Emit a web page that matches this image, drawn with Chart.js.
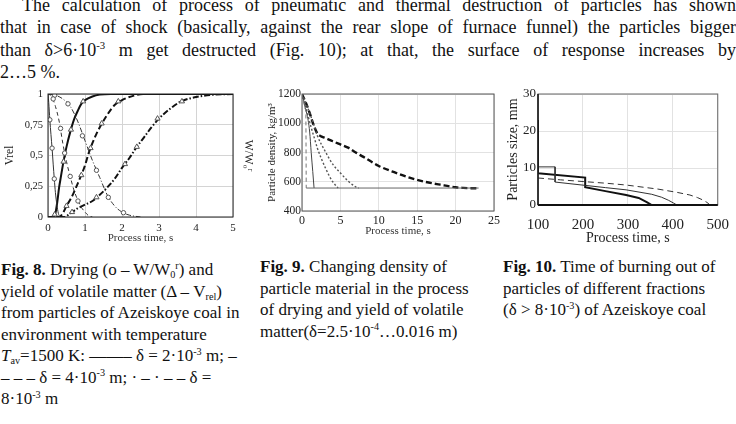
<!DOCTYPE html>
<html><head><meta charset="utf-8">
<script src="https://cdn.jsdelivr.net/npm/chart.js@4"></script>
<style>
html,body{margin:0;padding:0;background:#fff;}
body{width:736px;height:424px;overflow:hidden;position:relative;font-family:"Liberation Serif","Times New Roman",serif;color:#111;}
.para{position:absolute;left:0;top:-6px;width:736px;font-size:18px;line-height:22.3px;}
.jl{text-align:justify;text-align-last:justify;}
sup{font-size:60%;vertical-align:baseline;position:relative;top:-0.6em;line-height:0;}
sub{font-size:60%;vertical-align:baseline;position:relative;top:0.3em;line-height:0;}
.cap{position:absolute;font-size:17px;line-height:21.5px;white-space:nowrap;}
.cv{position:absolute;}
</style></head>
<body>
<div class="para">
<div class="jl" style="padding-left:22px">The calculation of process of pneumatic and thermal destruction of particles has shown</div>
<div class="jl">that in case of shock (basically, against the rear slope of furnace funnel) the particles bigger</div>
<div class="jl">than δ&gt;6·10<sup>-3</sup> m get destructed (Fig. 10); at that, the surface of response increases by</div>
<div>2…5 %.</div>
</div>

<div class="cap" style="left:1px;top:259px;">
<b>Fig. 8.</b> Drying (o – W/W<sub>0</sub><sup>r</sup>) and<br>
yield of volatile matter (Δ – V<sub>rel</sub>)<br>
from particles of Azeiskoye coal in<br>
environment with temperature<br>
<i>T</i><sub>av</sub>=1500 K: ——– δ = 2·10<sup>-3</sup> m; –<br>
– – – δ = 4·10<sup>-3</sup> m; · – · – – δ =<br>
8·10<sup>-3</sup> m
</div>
<div class="cap" style="left:260px;top:256px;">
<b>Fig. 9.</b> Changing density of<br>
particle material in the process<br>
of drying and yield of volatile<br>
matter(δ=2.5·10<sup>-4</sup>…0.016 m)
</div>
<div class="cap" style="left:503px;top:256px;">
<b>Fig. 10.</b> Time of burning out of<br>
particles of different fractions<br>
(δ &gt; 8·10<sup>-3</sup>) of Azeiskoye coal
</div>

<canvas id="c8" class="cv" width="262" height="168" style="left:0px;top:80px;"></canvas>
<canvas id="c9" class="cv" width="250" height="160" style="left:255px;top:80px;"></canvas>
<canvas id="c10" class="cv" width="245" height="168" style="left:495px;top:80px;"></canvas>

<script>
// ---------- Fig. 8 data (process time, s / relative value) ----------
const w2T = [0, 0.02, 0.05, 0.08, 0.11, 0.14, 0.17, 0.2, 0.24, 0.28, 0.32];
const w2Y = [1, 0.93, 0.79, 0.67, 0.56, 0.43, 0.31, 0.2, 0.1, 0.03, 0];
const w2MarkT = [0.05, 0.11, 0.17];
const w2MarkY = [0.79, 0.56, 0.31];

const w4T = [0, 0.1, 0.2, 0.3, 0.4, 0.5, 0.6, 0.7, 0.8, 0.9, 1.0, 1.1, 1.2];
const w4Y = [1, 0.98, 0.9, 0.78, 0.6, 0.45, 0.33, 0.22, 0.14, 0.08, 0.04, 0.01, 0];
const w4MarkT = [0.14, 0.34, 0.45, 0.6, 0.81];
const w4MarkY = [0.96, 0.72, 0.52, 0.33, 0.13];

const w8T = [0, 0.2, 0.4, 0.6, 0.8, 1.0, 1.2, 1.4, 1.6, 1.8, 2.0, 2.2, 2.5];
const w8Y = [1, 0.99, 0.96, 0.9, 0.78, 0.62, 0.46, 0.32, 0.18, 0.09, 0.04, 0.015, 0];
const w8MarkT = [0.18, 0.54, 0.93, 1.31, 1.63, 2.04];
const w8MarkY = [0.99, 0.92, 0.66, 0.38, 0.16, 0.035];

const v2T = [0, 0.15, 0.2, 0.25, 0.3, 0.35, 0.4, 0.45, 0.5, 0.6, 0.7, 0.8, 0.9, 1.0, 1.2, 1.4, 1.7, 2.0, 5];
const v2Y = [0, 0, 0.03, 0.12, 0.24, 0.33, 0.42, 0.5, 0.57, 0.69, 0.79, 0.86, 0.92, 0.95, 0.98, 0.995, 1, 1, 1];
const v2MarkT = [0.18, 0.42, 0.62, 0.95];
const v2MarkY = [0.02, 0.45, 0.71, 0.94];

const v4T = [0, 0.3, 0.4, 0.5, 0.6, 0.7, 0.8, 0.9, 1.0, 1.1, 1.2, 1.3, 1.4, 1.6, 1.8, 2.0, 2.3, 2.6, 3.0, 5];
const v4Y = [0, 0, 0.03, 0.09, 0.14, 0.2, 0.27, 0.34, 0.42, 0.52, 0.6, 0.67, 0.73, 0.83, 0.91, 0.95, 0.985, 1, 1, 1];
const v4MarkT = [0.5, 0.9, 1.15, 1.45, 1.9];
const v4MarkY = [0.09, 0.34, 0.56, 0.76, 0.94];

const v8T = [0, 0.45, 0.6, 0.8, 1.0, 1.2, 1.4, 1.6, 1.8, 2.0, 2.2, 2.4, 2.6, 2.8, 3.0, 3.3, 3.6, 4.0, 4.5, 5];
const v8Y = [0, 0, 0.03, 0.07, 0.1, 0.13, 0.18, 0.24, 0.31, 0.4, 0.48, 0.57, 0.65, 0.73, 0.8, 0.88, 0.94, 0.975, 0.995, 1];
const v8MarkT = [0.65, 1.31, 2.08, 2.4, 2.96, 3.62];
const v8MarkY = [0.04, 0.16, 0.43, 0.57, 0.8, 0.94];

// ---------- Fig. 9 data (process time, s / density, kg/m3) ----------
const rhoLargeT = [0, 0.5, 1, 1.5, 2, 2.5, 3, 4, 5, 6, 7, 8, 9, 10, 12, 14, 16, 18, 20, 21, 22, 23];
const rhoLargeY = [1200, 1140, 1070, 990, 930, 910, 900, 877, 855, 833, 800, 770, 738, 708, 665, 628, 600, 580, 562, 558, 556, 555];
const rhoMid2T = [0, 0.5, 1, 1.5, 2, 3, 4, 5, 6, 7, 7.4];
const rhoMid2Y = [1200, 1140, 1070, 995, 915, 810, 720, 660, 605, 565, 557];
const rhoMid1T = [0, 0.4, 0.8, 1.2, 1.6, 2, 2.5, 3, 3.5, 4, 4.7];
const rhoMid1Y = [1200, 1130, 1050, 970, 900, 830, 760, 700, 645, 600, 557];
const rhoSmallT = [0, 0.2, 0.4, 0.6, 0.8, 1.0, 1.2, 1.4, 1.57];
const rhoSmallY = [1200, 1160, 1110, 1070, 1020, 940, 800, 670, 557];
const rhoFineT = [0, 0.2, 0.4, 0.5, 0.55];
const rhoFineY = [1200, 1150, 1100, 1060, 557];
const rhoFinalT = [0.55, 23];
const rhoFinalY = [557, 557];

// ---------- Fig. 10 data (process time, s / particle size, mm) ----------
const sizeThickT = [100, 100, 205, 205, 250, 296, 324, 342, 353, 500];
const sizeThickY = [23, 8.6, 7.4, 4.8, 3.75, 2.7, 1.9, 0.8, 0, 0];
const sizeThinT = [100, 138, 138, 205, 250, 296, 353, 375, 390, 402, 409];
const sizeThinY = [10.3, 10.3, 6.2, 5.3, 4.7, 4.1, 2.9, 2.1, 1.3, 0.5, 0];
const sizeDashT = [100, 150, 205, 250, 296, 367, 410, 438, 455, 466, 476, 483];
const sizeDashY = [7.3, 6.8, 6.3, 5.9, 5.4, 4.3, 3.4, 2.7, 2.0, 1.4, 0.7, 0];

const F = '"Liberation Serif","Times New Roman",serif';

function pts(xs, ys) { return xs.map((x, i) => ({x: x, y: ys[i]})); }
function curve(xs, ys, color, width, dash, smooth) {
  return {data: pts(xs, ys), showLine: true, borderColor: color, borderWidth: width,
    borderDash: dash, pointRadius: 0, order: 2, fill: false,
    cubicInterpolationMode: smooth ? 'monotone' : 'default', tension: 0};
}
function marks(xs, ys, style, r) {
  return {data: pts(xs, ys), showLine: false, pointStyle: style, pointRadius: r,
    pointBackgroundColor: '#fff', pointBorderColor: '#555', pointBorderWidth: 1, order: 0};
}

const frame = {
  id: 'frame',
  afterDatasetsDraw(chart, args, o) {
    const {ctx, chartArea: a} = chart;
    ctx.save();
    ctx.strokeStyle = o.color; ctx.lineWidth = o.width;
    ctx.strokeRect(a.left, a.top, a.right - a.left, a.bottom - a.top);
    if (o.leftWidth) {
      ctx.strokeStyle = o.axisColor; ctx.lineWidth = o.leftWidth;
      ctx.beginPath(); ctx.moveTo(a.left, a.top); ctx.lineTo(a.left, a.bottom); ctx.stroke();
      ctx.lineWidth = o.bottomWidth;
      ctx.beginPath(); ctx.moveTo(a.left, a.bottom); ctx.lineTo(a.right, a.bottom); ctx.stroke();
    }
    ctx.restore();
  }
};

const common = {responsive: false, animation: false, events: []};
const plain = v => String(v);

// ---------- Fig. 8 ----------
new Chart(document.getElementById('c8'), {
  type: 'scatter',
  data: {datasets: [
    marks(w2MarkT, w2MarkY, 'circle', 2.2),
    marks(w4MarkT, w4MarkY, 'circle', 2.2),
    marks(w8MarkT, w8MarkY, 'circle', 2.2),
    marks(v2MarkT, v2MarkY, 'triangle', 3),
    marks(v4MarkT, v4MarkY, 'triangle', 3),
    marks(v8MarkT, v8MarkY, 'triangle', 3),
    curve(w2T, w2Y, '#333', 1, [], true),
    curve(w4T, w4Y, '#333', 1, [4, 3], true),
    curve(w8T, w8Y, '#333', 1, [5, 2, 1, 2], true),
    curve(v2T, v2Y, '#111', 2, [], true),
    curve(v4T, v4Y, '#111', 2, [6, 3], true),
    curve(v8T, v8Y, '#111', 2, [6, 2, 1.5, 2], true)
  ]},
  options: Object.assign({}, common, {
    layout: {padding: {top: 14, left: 0, right: 0, bottom: 0}},
    plugins: {legend: {display: false}, tooltip: {enabled: false}, frame: {color: '#222', width: 1}},
    scales: {
      x: {type: 'linear', min: 0, max: 5,
        ticks: {stepSize: 1, padding: 5, color: '#222', font: {family: F, size: 11}, callback: plain},
        grid: {color: '#d4d4d4', drawTicks: false}, border: {display: false},
        title: {display: true, text: 'Process time, s', color: '#333', font: {family: F, size: 11}, padding: {top: 0, bottom: 3}},
        afterFit: s => { s.height = 31; }},
      y: {type: 'linear', min: 0, max: 1,
        ticks: {stepSize: 0.25, padding: 5, color: '#222', font: {family: F, size: 10.5},
          callback: v => String(v).replace('.', ',')},
        grid: {color: '#d4d4d4', drawTicks: false}, border: {display: false},
        title: {display: true, text: 'Vrel', color: '#222', font: {family: F, size: 11.5}, padding: {top: 3, bottom: 0}},
        afterFit: s => { s.width = 48; }},
      y2: {type: 'linear', position: 'right', min: 0, max: 1,
        ticks: {display: false}, grid: {display: false}, border: {display: false},
        title: {display: true, text: 'W/W₀ʳ', color: '#222', font: {family: F, size: 11.5}, padding: {top: 7, bottom: 0}},
        afterFit: s => { s.width = 29; }}
    }
  }),
  plugins: [frame]
});

// ---------- Fig. 9 ----------
new Chart(document.getElementById('c9'), {
  type: 'scatter',
  data: {datasets: [
    curve(rhoFinalT, rhoFinalY, '#666', 1, [], false),
    curve(rhoFineT, rhoFineY, '#777', 1, [4, 3], true),
    curve(rhoSmallT, rhoSmallY, '#444', 1, [], true),
    curve(rhoMid1T, rhoMid1Y, '#555', 1.4, [2, 2], true),
    curve(rhoMid2T, rhoMid2Y, '#555', 1.4, [2, 2], true),
    curve(rhoLargeT, rhoLargeY, '#111', 2.4, [6, 3], true)
  ]},
  options: Object.assign({}, common, {
    layout: {padding: {top: 14, left: 0, right: 11, bottom: 0}},
    plugins: {legend: {display: false}, tooltip: {enabled: false}, frame: {color: '#555', width: 1}},
    scales: {
      x: {type: 'linear', min: 0, max: 25,
        ticks: {stepSize: 5, padding: 3, color: '#222', font: {family: F, size: 12}, callback: plain},
        grid: {color: '#e2e2e2', drawTicks: false}, border: {display: false},
        title: {display: true, text: 'Process time, s', color: '#333', font: {family: F, size: 11}, padding: {top: 0, bottom: 2}},
        afterFit: s => { s.height = 29; }},
      y: {type: 'linear', min: 400, max: 1200,
        ticks: {stepSize: 200, padding: 1, color: '#222', font: {family: F, size: 11.5}, callback: plain},
        grid: {color: '#e2e2e2', drawTicks: false}, border: {display: false},
        title: {display: true, text: 'Particle density, kg/m³', color: '#222', font: {family: F, size: 11}, padding: {top: 11, bottom: 0}},
        afterFit: s => { s.width = 47; }}
    }
  }),
  plugins: [frame]
});

// ---------- Fig. 10 ----------
new Chart(document.getElementById('c10'), {
  type: 'scatter',
  data: {datasets: [
    curve(sizeDashT, sizeDashY, '#333', 1, [6, 4], false),
    curve(sizeThinT, sizeThinY, '#333', 1, [], false),
    curve(sizeThickT, sizeThickY, '#111', 2, [], false)
  ]},
  options: Object.assign({}, common, {
    layout: {padding: {top: 14, left: 0, right: 14, bottom: 0}},
    plugins: {legend: {display: false}, tooltip: {enabled: false},
      frame: {color: '#666', width: 1, axisColor: '#111', leftWidth: 1.5, bottomWidth: 2}},
    scales: {
      x: {type: 'linear', min: 100, max: 500,
        ticks: {stepSize: 100, padding: 11, color: '#222', font: {family: F, size: 15}, callback: plain},
        grid: {color: '#e2e2e2', drawTicks: false}, border: {display: false},
        title: {display: true, text: 'Process time, s', color: '#222', font: {family: F, size: 14}, padding: {top: 0, bottom: 1.5}},
        afterFit: s => { s.height = 43; }},
      y: {type: 'linear', min: 0, max: 30,
        ticks: {stepSize: 10, padding: 2, color: '#222', font: {family: F, size: 13}, callback: plain},
        grid: {color: '#e2e2e2', drawTicks: false}, border: {display: false},
        title: {display: true, text: 'Particles size, mm', color: '#222', font: {family: F, size: 14}, padding: {top: 10, bottom: 0}},
        afterFit: s => { s.width = 43; }}
    }
  }),
  plugins: [frame]
});
</script>
</body></html>
